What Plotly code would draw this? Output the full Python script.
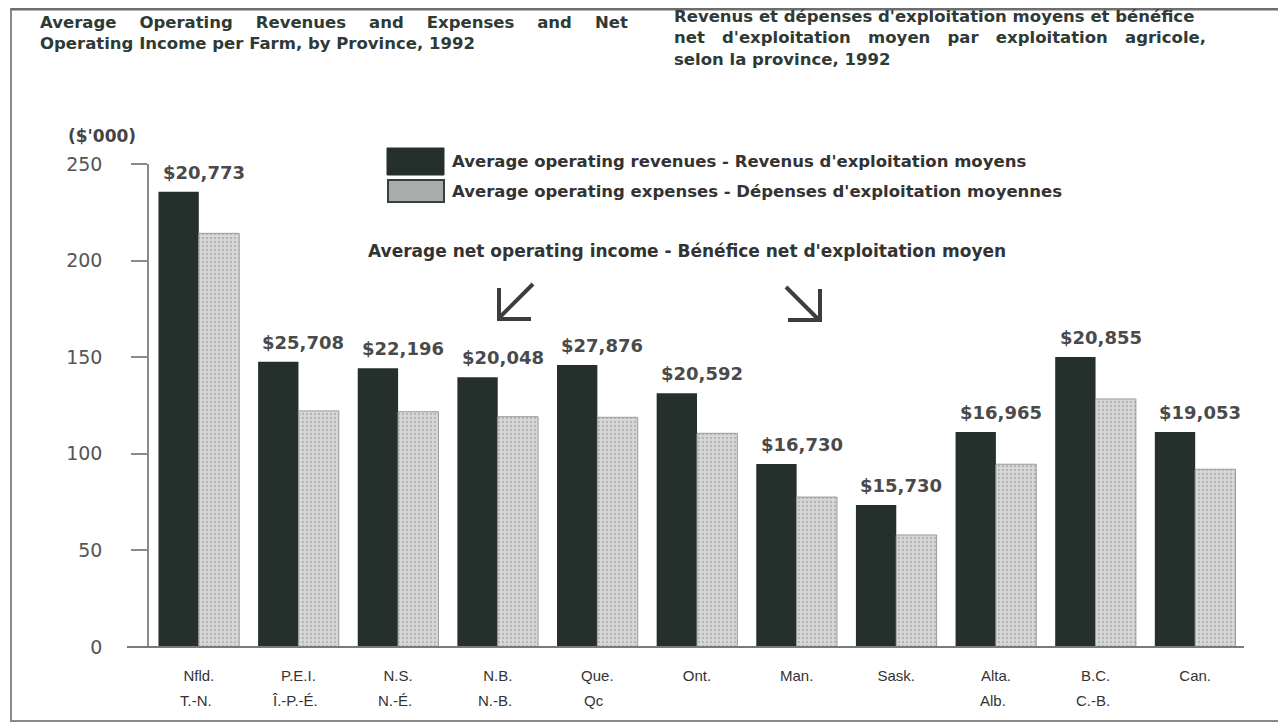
import plotly.graph_objects as go

# ---------------- data ----------------
prov_line1 = ["Nfld.", "P.E.I.", "N.S.", "N.B.", "Que.", "Ont.", "Man.", "Sask.", "Alta.", "B.C.", "Can."]
prov_line2 = ["T.-N.", "Î.-P.-É.", "N.-É.", "N.-B.", "Qc", "", "", "", "Alb.", "C.-B.", ""]
revenues = [235.7, 147.7, 144.3, 139.6, 146.0, 131.3, 94.7, 73.5, 111.3, 150.1, 111.3]
expenses = [214.1, 122.2, 121.8, 119.2, 118.9, 110.6, 77.6, 58.0, 94.6, 128.4, 92.0]
net_income = [20773, 25708, 22196, 20048, 27876, 20592, 16730, 15730, 16965, 20855, 19053]
y_ticks = [0, 50, 100, 150, 200, 250]

# ---------------- geometry helpers (reference pixel -> paper) ----------------
OFF = 8                      # page body margin of the html page
W, H = 1286 - OFF, 728 - OFF
PLOT_L, PLOT_R, PLOT_T, PLOT_B = 149, 1245, 164, 647   # plot area in page pixels
L = PLOT_L - OFF
T = PLOT_T - OFF
R = W - (PLOT_R - OFF)
B = H - (PLOT_B - OFF)
PW, PH = PLOT_R - PLOT_L, PLOT_B - PLOT_T


def px(x):
    return (x - PLOT_L) / PW


def py(y):
    return (PLOT_B - y) / PH


x_idx = list(range(len(prov_line1)))

fig = go.Figure()
fig.add_trace(go.Bar(
    x=x_idx, y=revenues, name="Average operating revenues",
    marker=dict(color="#25302c", line=dict(width=0)),
    showlegend=False, hoverinfo="y",
))
fig.add_trace(go.Bar(
    x=x_idx, y=expenses, name="Average operating expenses",
    marker=dict(color="#d2d2d2", line=dict(width=1, color="#9a9a9a"),
                pattern=dict(shape=".", fgcolor="#939393", bgcolor="#d8d8d8",
                             size=4, solidity=0.3)),
    showlegend=False, hoverinfo="y",
))

annotations = []
# net income labels above each group
for i, (v, n) in enumerate(zip(revenues, net_income)):
    annotations.append(dict(
        x=i, y=v, xref="x", yref="y", text="$" + format(n, ","),
        showarrow=False, yanchor="bottom", xanchor="center", xshift=5, yshift=7,
        font=dict(family="DejaVu Sans", size=18, color="#4a4a4a", weight="bold"),
    ))
# second line of category labels
for i, t in enumerate(prov_line2):
    if t:
        annotations.append(dict(
            x=i, y=py(700), xref="x", yref="paper", text=t, showarrow=False,
            xanchor="center", yanchor="middle", xshift=-3,
            font=dict(family="Liberation Sans Narrow, Liberation Sans", size=15, color="#333333"),
        ))

title_font = dict(family="DejaVu Sans", size=16.5, color="#2f3a35", weight="bold")
sp = "\u00a0"
left_title = ("Average" + sp * 4 + "Operating" + sp * 4 + "Revenues" + sp * 4 + "and" + sp * 4
              + "Expenses" + sp * 4 + "and" + sp * 4 + "Net<br>"
              "Operating Income per Farm, by Province, 1992")
right_title = ("Revenus et dépenses d'exploitation moyens et bénéfice<br>"
               "net" + sp * 3 + "d'exploitation" + sp * 3 + "moyen" + sp * 3 + "par" + sp * 3
               + "exploitation" + sp * 3 + "agricole,<br>"
               "selon la province, 1992")
annotations.append(dict(x=px(38), y=py(11), xref="paper", yref="paper", text=left_title,
                        showarrow=False, xanchor="left", yanchor="top", align="left", font=title_font))
annotations.append(dict(x=px(672), y=py(5), xref="paper", yref="paper", text=right_title,
                        showarrow=False, xanchor="left", yanchor="top", align="left", font=title_font))
annotations.append(dict(x=px(66), y=py(136), xref="paper", yref="paper", text="($'000)",
                        showarrow=False, xanchor="left", yanchor="middle",
                        font=dict(family="DejaVu Sans", size=17, color="#444444", weight="bold")))

leg_font = dict(family="DejaVu Sans", size=16.5, color="#333333", weight="bold")
annotations.append(dict(x=px(450), y=py(162), xref="paper", yref="paper",
                        text="Average operating revenues - Revenus d'exploitation moyens",
                        showarrow=False, xanchor="left", yanchor="middle", font=leg_font))
annotations.append(dict(x=px(450), y=py(191), xref="paper", yref="paper",
                        text="Average operating expenses - Dépenses d'exploitation moyennes",
                        showarrow=False, xanchor="left", yanchor="middle", font=leg_font))
annotations.append(dict(x=px(687), y=py(251), xref="paper", yref="paper",
                        text="Average net operating income - Bénéfice net d'exploitation moyen",
                        showarrow=False, xanchor="center", yanchor="middle",
                        font=dict(family="DejaVu Sans", size=17, color="#333333", weight="bold")))

shapes = [
    # outer frame
    dict(type="rect", xref="paper", yref="paper", x0=px(11), x1=px(1281), y0=py(721), y1=py(9),
         line=dict(color="#8a8a8a", width=2)),
    dict(type="line", xref="paper", yref="paper", x0=px(11), x1=px(1284), y0=py(9), y1=py(9),
         line=dict(color="#6e6e6e", width=3)),
    # baseline
    dict(type="line", xref="paper", yref="paper", x0=px(127), x1=px(1244), y0=0, y1=0,
         line=dict(color="#7a7a7a", width=2)),
    # legend boxes
    dict(type="rect", xref="paper", yref="paper", x0=px(387), x1=px(444), y0=py(175), y1=py(148),
         fillcolor="#25302c", line=dict(color="#25302c", width=1)),
    dict(type="rect", xref="paper", yref="paper", x0=px(388), x1=px(444), y0=py(202), y1=py(180),
         fillcolor="#a9adab", line=dict(color="#3a403d", width=2)),
    # arrows
    dict(type="path", xref="paper", yref="paper",
         path=f"M {px(533)},{py(284)} L {px(499)},{py(318)} M {px(499)},{py(288)} L {px(499)},{py(319)} L {px(531)},{py(319)}",
         line=dict(color="#3d3d3d", width=4)),
    dict(type="path", xref="paper", yref="paper",
         path=f"M {px(786)},{py(287)} L {px(819)},{py(320)} M {px(820)},{py(289)} L {px(820)},{py(320)} L {px(788)},{py(320)}",
         line=dict(color="#3d3d3d", width=4)),
]

fig.update_layout(
    width=W, height=H,
    margin=dict(l=L, r=R, t=T, b=B, pad=0),
    paper_bgcolor="white", plot_bgcolor="white",
    barmode="group", bargap=0.19, bargroupgap=0,
    showlegend=False,
    annotations=annotations, shapes=shapes,
    xaxis=dict(range=[-0.5, 10.5], tickvals=x_idx, ticktext=prov_line1,
               showline=False, showgrid=False, zeroline=False, ticks="",
               ticklabelstandoff=18,
               tickfont=dict(family="Liberation Sans Narrow, Liberation Sans", size=15, color="#333333")),
    yaxis=dict(range=[0, 250], tickvals=y_ticks, showgrid=False, zeroline=False,
               showline=True, linecolor="#8a8a8a", linewidth=1.5,
               ticks="outside", ticklen=16, tickcolor="#8a8a8a", tickwidth=1.5,
               ticklabelstandoff=25,
               tickfont=dict(family="DejaVu Sans", size=19, color="#555555")),
)

fig.write_html("out.html")
